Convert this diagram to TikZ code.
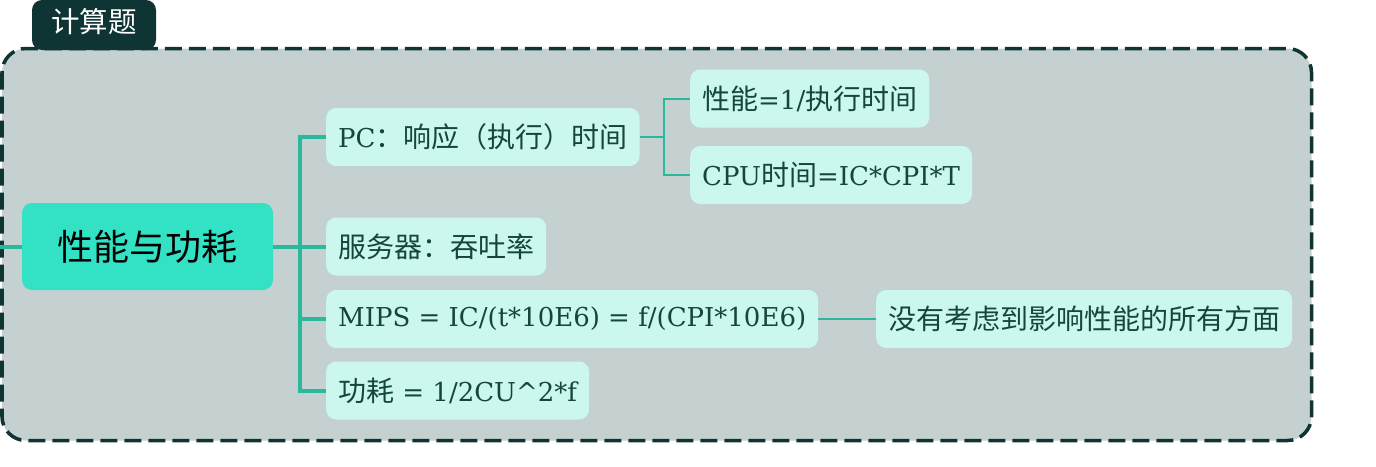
\documentclass[tikz,border=0pt]{standalone}
\usepackage{fontspec}
\setmainfont{DejaVu Serif}
\newfontfamily\cjk{Noto Sans CJK SC}
\usetikzlibrary{positioning}

\definecolor{framefill}{HTML}{C5D1D1}
\definecolor{framedark}{HTML}{0F3434}
\definecolor{rootfill}{HTML}{33E1C4}
\definecolor{topicfill}{HTML}{CCF7EE}
\definecolor{topictext}{HTML}{14473C}
\definecolor{linkcol}{HTML}{2BB99D}

\newcommand{\zh}[1]{{\cjk\fontsize{28}{30}\selectfont #1}}

\tikzset{
  topic/.style={fill=topicfill, rounded corners=10pt, text=topictext,
    minimum height=58pt, inner xsep=12pt, inner ysep=0pt, anchor=west,
    font=\fontsize{26}{30}\selectfont},
  link/.style={draw=linkcol, line width=4pt},
  sublink/.style={draw=linkcol, line width=2pt}
}

\begin{document}
\begin{tikzpicture}[x=1pt, y=-1pt]
\useasboundingbox (0,0) rectangle (1376,466);

% frame
\draw [framedark, fill=framefill, line width=3.5pt, dash pattern=on 17pt off 7pt,
  rounded corners=24pt] (2,48.5) rectangle (1311.5,440.5);
\fill [framedark, rounded corners=10pt] (32,50) -- (32,0) -- (156,0) -- (156,50) -- cycle;
\node [text=white, font=\cjk\fontsize{28.5}{32}\selectfont] (tab) at (94,22) {计算题};

% root
\node [fill=rootfill, rounded corners=10pt, minimum width=251pt, minimum height=87pt,
  font=\cjk\fontsize{36}{40}\selectfont] (root) at (147.5,246.5) {性能与功耗};

% topics
\node [topic] (pc)   at (326,137) {PC\zh{：响应（执行）时间}};
\node [topic] (srv)  at (326,246.5) {\zh{服务器：吞吐率}};
\node [topic] (mips) at (326,319) {MIPS = IC/(t*10E6) = f/(CPI*10E6)};
\node [topic] (pw)   at (326,390.5) {\zh{功耗} = 1/2CU\^{}2*f};

\node [topic] (perf) at (690,98.5) {\zh{性能}=1/\zh{执行时间}};
\node [topic] (cpu)  at (690,175) {CPU\zh{时间}=IC*CPI*T};
\node [topic] (note) at (876,319) {\zh{没有考虑到影响性能的所有方面}};

% connectors
\coordinate (entry) at (0,246.5);
\coordinate (trunk) at (300,246.5);
\coordinate (fork) at (664,137);
\draw [link] (entry) -- (root.west);
\draw [link] (root.east) -- (trunk);
\draw [link] (pc.west) -| (trunk) |- (pw.west);
\draw [link] (trunk) -- (srv.west);
\draw [link] (trunk |- mips.west) -- (mips.west);
\draw [sublink] (pc.east) -- (fork);
\draw [sublink] (perf.west) -| (fork) |- (cpu.west);
\draw [sublink] (mips.east) -- (note.west);

\end{tikzpicture}
\end{document}
